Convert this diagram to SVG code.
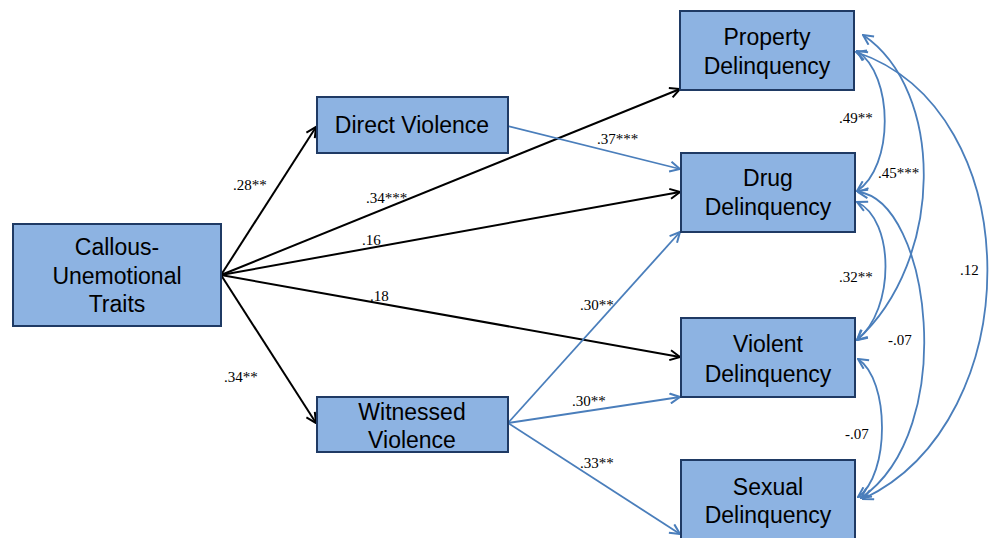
<svg xmlns="http://www.w3.org/2000/svg" width="989" height="538" viewBox="0 0 989 538">
<style>
.box{fill:#8db3e2;stroke:#1f3a64;stroke-width:2}
.bt{font-family:"Liberation Sans",Arial,sans-serif;font-size:23px;fill:#000;text-anchor:middle}
.lb{font-family:"Liberation Serif","Times New Roman",serif;font-size:15px;fill:#000}
.blk{stroke:#000;stroke-width:2;fill:none}
.blu{stroke:#4a7ebb;stroke-width:1.8;fill:none}
</style>
<defs>
<marker id="ak" viewBox="0 0 12 12" refX="11" refY="6" markerWidth="12" markerHeight="12" markerUnits="userSpaceOnUse" orient="auto-start-reverse"><path d="M1,1 L11,6 L1,11" fill="none" stroke="#000" stroke-width="2"/></marker>
<marker id="ab" viewBox="0 0 12 12" refX="11" refY="6" markerWidth="12" markerHeight="12" markerUnits="userSpaceOnUse" orient="auto-start-reverse"><path d="M1,1 L11,6 L1,11" fill="none" stroke="#4a7ebb" stroke-width="2"/></marker>
</defs>
<rect width="989" height="538" fill="#fff"/>
<g id="connectors">
<line class="blk" x1="221" y1="275" x2="316" y2="127" marker-end="url(#ak)"/>
<line class="blk" x1="221" y1="275" x2="680" y2="89" marker-end="url(#ak)"/>
<line class="blk" x1="221" y1="275" x2="680" y2="192" marker-end="url(#ak)"/>
<line class="blk" x1="221" y1="275" x2="680" y2="357" marker-end="url(#ak)"/>
<line class="blk" x1="221" y1="275" x2="316" y2="423" marker-end="url(#ak)"/>
<line class="blu" x1="508" y1="126" x2="680" y2="169" marker-end="url(#ab)"/>
<line class="blu" x1="508" y1="423" x2="680" y2="232" marker-end="url(#ab)"/>
<line class="blu" x1="508" y1="423" x2="680" y2="397" marker-end="url(#ab)"/>
<line class="blu" x1="508" y1="423" x2="680" y2="534" marker-end="url(#ab)"/>
<path class="blu" d="M857,51 C894,75 894,167 857,191" marker-start="url(#ab)" marker-end="url(#ab)"/>
<path class="blu" d="M863,35 C945,90 945,260 857,340" marker-start="url(#ab)" marker-end="url(#ab)"/>
<path class="blu" d="M856,52 C1030,110 1030,420 863,499" marker-start="url(#ab)" marker-end="url(#ab)"/>
<path class="blu" d="M857,202 C895,220 895,310 857,340" marker-start="url(#ab)" marker-end="url(#ab)"/>
<path class="blu" d="M858,192 C930,200 960,430 861,498" marker-start="url(#ab)" marker-end="url(#ab)"/>
<path class="blu" d="M858,359 C890,380 890,475 858,497" marker-start="url(#ab)" marker-end="url(#ab)"/>
</g>
<g id="labels">
<text class="lb" x="233" y="190">.28**</text>
<text class="lb" x="366" y="203">.34***</text>
<text class="lb" x="362" y="245">.16</text>
<text class="lb" x="370" y="301">.18</text>
<text class="lb" x="224" y="382">.34**</text>
<text class="lb" x="597" y="144">.37***</text>
<text class="lb" x="580" y="310">.30**</text>
<text class="lb" x="572" y="406">.30**</text>
<text class="lb" x="580" y="468">.33**</text>
<text class="lb" x="839" y="123">.49**</text>
<text class="lb" x="878" y="178">.45***</text>
<text class="lb" x="839" y="282">.32**</text>
<text class="lb" x="888" y="345">-.07</text>
<text class="lb" x="960" y="275">.12</text>
<text class="lb" x="845" y="439">-.07</text>
</g>
<g id="cu"><rect class="box" x="13" y="224" width="208" height="102"/><text class="bt" x="117" y="255">Callous-</text><text class="bt" x="117" y="284">Unemotional</text><text class="bt" x="117" y="312">Traits</text></g>
<g id="direct"><rect class="box" x="317" y="97" width="191" height="56"/><text class="bt" x="412" y="133">Direct Violence</text></g>
<g id="witnessed"><rect class="box" x="317" y="397" width="191" height="55"/><text class="bt" x="412" y="420">Witnessed</text><text class="bt" x="412" y="448">Violence</text></g>
<g id="property"><rect class="box" x="680" y="11" width="174" height="79"/><text class="bt" x="767" y="45">Property</text><text class="bt" x="767" y="74">Delinquency</text></g>
<g id="drug"><rect class="box" x="681" y="153" width="174" height="79"/><text class="bt" x="768" y="186">Drug</text><text class="bt" x="768" y="215">Delinquency</text></g>
<g id="violent"><rect class="box" x="681" y="318" width="174" height="79"/><text class="bt" x="768" y="352">Violent</text><text class="bt" x="768" y="382">Delinquency</text></g>
<g id="sexual"><rect class="box" x="681" y="460" width="174" height="90"/><text class="bt" x="768" y="495">Sexual</text><text class="bt" x="768" y="523">Delinquency</text></g>
</svg>
